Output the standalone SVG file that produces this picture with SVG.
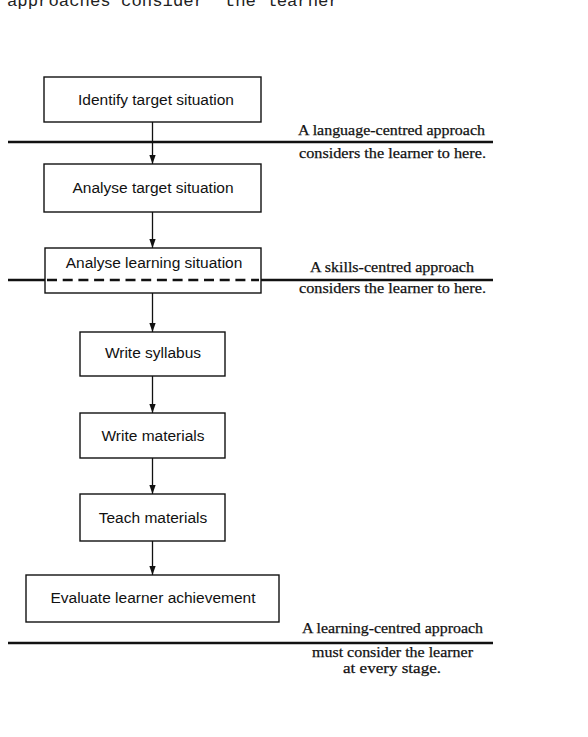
<svg xmlns="http://www.w3.org/2000/svg" width="588" height="737" viewBox="0 0 588 737">
<style>
.box{fill:#fff;stroke:#111;stroke-width:1.4}
.bt{font-family:"Liberation Sans",Arial,sans-serif;font-size:15.5px;fill:#111;text-anchor:middle}
.lab{font-family:"Liberation Serif","Times New Roman",serif;font-size:15.5px;fill:#111;stroke:#111;stroke-width:0.25}
.rule{stroke:#111;stroke-width:2.6;fill:none}
.conn{stroke:#111;stroke-width:1.3;fill:none}
.mono{font-family:"Liberation Mono","Courier New",monospace;font-size:17.3px;fill:#222}
</style>
<defs>
<marker id="ah" viewBox="0 0 10 10" refX="10" refY="5" markerWidth="9" markerHeight="9" markerUnits="userSpaceOnUse" orient="auto">
<path d="M0,1.5 L10,5 L0,8.5 Z" fill="#111"/>
</marker>
</defs>
<rect width="588" height="737" fill="#fff"/>
<text class="mono" x="7" y="6" xml:space="preserve">approaches consider  the learner</text>

<g id="rules">
<line class="rule" x1="8" y1="142" x2="493" y2="142"/>
<line class="rule" x1="8" y1="280" x2="45" y2="280"/>
<line class="rule" x1="261" y1="280" x2="493" y2="280"/>
<line class="rule" x1="8" y1="643" x2="493" y2="643"/>
</g>

<g id="connectors">
<line class="conn" x1="152.5" y1="122" x2="152.5" y2="164" marker-end="url(#ah)"/>
<line class="conn" x1="152.5" y1="212" x2="152.5" y2="248" marker-end="url(#ah)"/>
<line class="conn" x1="152.5" y1="293" x2="152.5" y2="332" marker-end="url(#ah)"/>
<line class="conn" x1="152.5" y1="376" x2="152.5" y2="413" marker-end="url(#ah)"/>
<line class="conn" x1="152.5" y1="458" x2="152.5" y2="494" marker-end="url(#ah)"/>
<line class="conn" x1="152.5" y1="541" x2="152.5" y2="575" marker-end="url(#ah)"/>
</g>

<g id="n1"><rect class="box" x="44" y="77" width="217" height="45"/><text class="bt" x="156" y="105">Identify target situation</text></g>
<g id="n2"><rect class="box" x="44" y="164" width="217" height="48"/><text class="bt" x="153" y="193">Analyse target situation</text></g>
<g id="n3"><rect class="box" x="45" y="248" width="216" height="45"/><text class="bt" x="154" y="268">Analyse learning situation</text>
<line x1="47" y1="280" x2="259" y2="280" stroke="#111" stroke-width="2.4" stroke-dasharray="10,5.7"/></g>
<g id="n4"><rect class="box" x="80" y="332" width="145" height="44"/><text class="bt" x="153" y="358">Write syllabus</text></g>
<g id="n5"><rect class="box" x="80" y="413" width="145" height="45"/><text class="bt" x="153" y="441">Write materials</text></g>
<g id="n6"><rect class="box" x="80" y="494" width="145" height="47"/><text class="bt" x="153" y="523">Teach materials</text></g>
<g id="n7"><rect class="box" x="26" y="575" width="253" height="47"/><text class="bt" x="153" y="603">Evaluate learner achievement</text></g>

<g id="labels">
<text class="lab" x="298" y="135" textLength="187" lengthAdjust="spacingAndGlyphs">A language-centred approach</text>
<text class="lab" x="299" y="158" textLength="187" lengthAdjust="spacingAndGlyphs">considers the learner to here.</text>
<text class="lab" x="310" y="272" textLength="164" lengthAdjust="spacingAndGlyphs">A skills-centred approach</text>
<text class="lab" x="299" y="293" textLength="187" lengthAdjust="spacingAndGlyphs">considers the learner to here.</text>
<text class="lab" x="302" y="633" textLength="181" lengthAdjust="spacingAndGlyphs">A learning-centred approach</text>
<text class="lab" x="312" y="657" textLength="161" lengthAdjust="spacingAndGlyphs">must consider the learner</text>
<text class="lab" x="343" y="673" textLength="98" lengthAdjust="spacingAndGlyphs">at every stage.</text>
</g>
</svg>
